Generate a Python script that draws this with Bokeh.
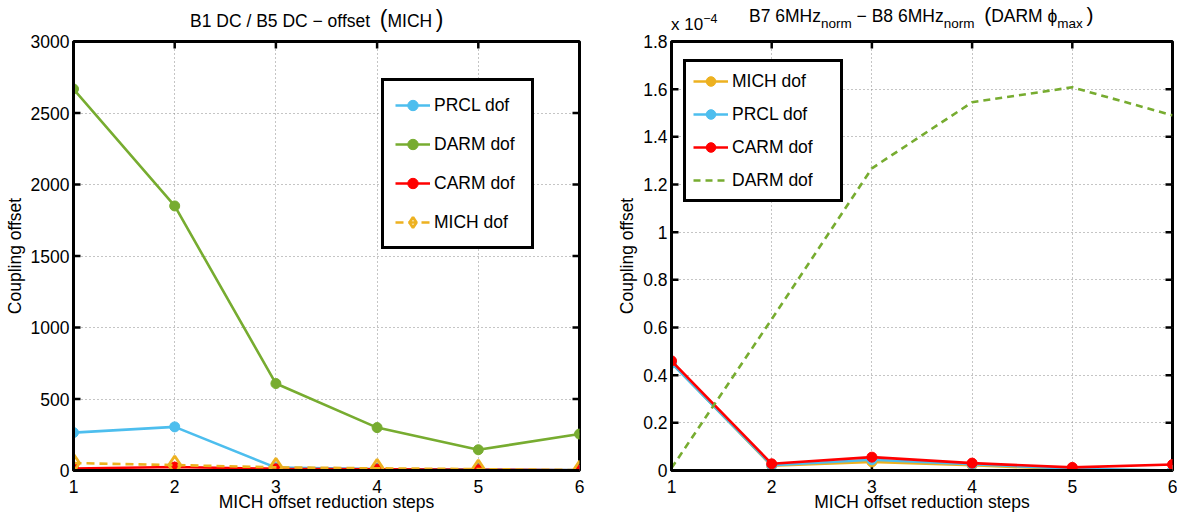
import math
from bokeh.layouts import row, column
from bokeh.models import (CustomJSTickFormatter, FixedTicker, Legend, LegendItem,
                          Range1d, Div)
from bokeh.plotting import figure
from bokeh.embed import file_html
from bokeh.resources import INLINE

FONT = "Liberation Sans"
FS = "17.5px"

# ---------------- data ----------------
steps = [1, 2, 3, 4, 5, 6]
x_ticks = [1, 2, 3, 4, 5, 6]
x_label = "MICH offset reduction steps"
y_label = "Coupling offset"

# left panel: B1 DC / B5 DC - offset (MICH)
left_y_ticks = [0, 500, 1000, 1500, 2000, 2500, 3000]
left_prcl = [265, 305, 20, 10, 6, 3]
left_darm = [2668, 1850, 608, 300, 145, 255]
left_carm = [14, 24, 12, 9, 5, 2]
left_mich = [52, 38, 22, 15, 10, 3]

# right panel: B7 6MHz_norm - B8 6MHz_norm (DARM phi_max), values in units of 1e-4
right_y_ticks = [0, 0.2, 0.4, 0.6, 0.8, 1.0, 1.2, 1.4, 1.6, 1.8]
right_mich = [0.452, 0.020, 0.036, 0.022, 0.005, 0.000]
right_prcl = [0.450, 0.022, 0.045, 0.026, 0.008, 0.000]
right_carm = [0.460, 0.028, 0.056, 0.031, 0.013, 0.025]
right_darm = [0.010, 0.635, 1.268, 1.545, 1.608, 1.490]

BLUE = "#4DBEEE"
GREEN = "#77AC30"
RED = "#FF0000"
ORANGE = "#EDB120"

# ---------------- layout ----------------
FRAME_H = 429
TITLE_H = 37
OVERLAP = 9          # figure canvas slides up under the title strip
BORDER_TOP = 13
BORDER_BOTTOM = 43


def style_axis(ax):
    ax.major_tick_in = 0
    ax.major_tick_out = 0
    ax.minor_tick_line_color = None
    ax.axis_line_width = 3
    ax.major_label_text_font = FONT
    ax.major_label_text_font_size = FS
    ax.major_label_text_color = "black"
    ax.axis_label_text_font = FONT
    ax.axis_label_text_font_size = FS
    ax.axis_label_text_font_style = "normal"
    ax.axis_label_text_color = "black"


def base_fig(frame_w, y_range, y_ticks, border_left, border_right, y_fmt=None):
    p = figure(frame_width=frame_w, frame_height=FRAME_H,
               x_range=Range1d(1, 6), y_range=Range1d(*y_range),
               min_border_left=border_left, min_border_right=border_right,
               min_border_top=BORDER_TOP, min_border_bottom=BORDER_BOTTOM,
               output_backend="svg", toolbar_location=None,
               background_fill_color="white", border_fill_color=None,
               margin=(-OVERLAP, 0, 0, 0))
    p.outline_line_color = "black"
    p.outline_line_alpha = 1
    p.outline_line_width = 3
    xt = FixedTicker(ticks=x_ticks)
    yt = FixedTicker(ticks=y_ticks)
    xa = p.xaxis[0]
    ya = p.yaxis[0]
    xa.ticker = xt
    ya.ticker = yt
    if y_fmt is not None:
        ya.formatter = y_fmt
    style_axis(xa)
    style_axis(ya)
    xa.axis_label = x_label
    ya.axis_label = y_label
    xa.major_label_standoff = 9
    xa.axis_label_standoff = -4
    ya.major_label_standoff = 4
    ya.axis_label_standoff = 3
    for g, t in ((p.xgrid[0], xt), (p.ygrid[0], yt)):
        g.ticker = t
        g.grid_line_color = "#8a8a8a"
        g.grid_line_dash = "1 3"
        g.grid_line_width = 1
    # inward tick marks on all four sides (half of each dash is clipped by the frame)
    y0, y1 = y_range
    n_x, n_y = len(x_ticks), len(y_ticks)
    p.scatter(x_ticks * 2, [y0] * n_x + [y1] * n_x, marker="dash", size=14,
              angle=math.pi / 2, line_color="black", line_width=2.5)
    p.scatter([1] * n_y + [6] * n_y, y_ticks * 2, marker="dash", size=14,
              line_color="black", line_width=2.5)
    return p


def series(p, y, color, dash="solid", marker="circle"):
    ln = p.line(steps, y, line_color=color, line_width=2.6, line_dash=dash)
    if marker == "diamond":
        sc = p.scatter(steps, y, marker="diamond", size=18, line_color=color,
                       line_width=2.8, fill_color=None)
    else:
        sc = p.scatter(steps, y, marker="circle", size=10, line_color=color,
                       fill_color=color)
    return ln, sc


def style_legend(leg, gh, spacing, padding, label_w):
    leg.glyph_width = 35
    leg.glyph_height = gh
    leg.label_height = gh
    leg.label_width = label_w
    leg.spacing = spacing
    leg.padding = padding
    leg.label_standoff = 4
    leg.margin = 0
    leg.label_text_font = FONT
    leg.label_text_font_size = FS
    leg.label_text_color = "black"
    leg.border_line_color = "black"
    leg.border_line_alpha = 1
    leg.border_line_width = 3
    leg.background_fill_color = "white"
    leg.background_fill_alpha = 1


# ---------------- left figure ----------------
L_FRAME_W = 506
L_LEFT = 73
L_RIGHT = 35
L_W = L_LEFT + L_FRAME_W + L_RIGHT
pl = base_fig(L_FRAME_W, (0, 3000), left_y_ticks, L_LEFT, L_RIGHT)

r_prcl = series(pl, left_prcl, BLUE)
r_darm = series(pl, left_darm, GREEN)
r_carm = series(pl, left_carm, RED)
r_mich = series(pl, left_mich, ORANGE, dash="8 5", marker="diamond")

leg_l = Legend(items=[
    LegendItem(label="PRCL dof", renderers=list(r_prcl)),
    LegendItem(label="DARM dof", renderers=list(r_darm)),
    LegendItem(label="CARM dof", renderers=list(r_carm)),
    LegendItem(label="MICH dof", renderers=list(r_mich)),
], location=(308, 221))
style_legend(leg_l, 26, 13, 11, 86)
pl.add_layout(leg_l)

BIG = "font-size:23px;"
title_l = Div(
    text=(
        f'<div style="position:relative;width:{L_W}px;height:{TITLE_H}px;'
        f'font-family:\'{FONT}\';color:black;">'
        '<div style="position:absolute;left:190px;top:9px;font-size:17.5px;'
        'line-height:20px;white-space:nowrap;">'
        f'B1 DC / B5 DC \u2212 offset &nbsp;<span style="{BIG}">(</span>MICH'
        f'&thinsp;<span style="{BIG}">)</span></div></div>'
    ),
    width=L_W, height=TITLE_H, margin=0)

# ---------------- right figure ----------------
R_FRAME_W = 501
R_LEFT = 56
R_RIGHT = 5
R_W = R_LEFT + R_FRAME_W + R_RIGHT
fmt_r = CustomJSTickFormatter(code="return String(Math.round(tick * 10) / 10);")
pr = base_fig(R_FRAME_W, (0, 1.8), right_y_ticks, R_LEFT, R_RIGHT, y_fmt=fmt_r)

s_mich = series(pr, right_mich, ORANGE)
s_prcl = series(pr, right_prcl, BLUE)
s_carm = series(pr, right_carm, RED)
s_darm = pr.line(steps, right_darm, line_color=GREEN, line_width=2.6, line_dash="7 5")

leg_r = Legend(items=[
    LegendItem(label="MICH dof", renderers=list(s_mich)),
    LegendItem(label="PRCL dof", renderers=list(s_prcl)),
    LegendItem(label="CARM dof", renderers=list(s_carm)),
    LegendItem(label="DARM dof", renderers=[s_darm]),
], location=(12, 268))
style_legend(leg_r, 24, 9, 7, 101)
pr.add_layout(leg_r)

SUB = "font-size:13.5px;vertical-align:-6px;"
PAR = "font-size:21px;"
title_r = Div(
    text=(
        f'<div style="position:relative;width:{R_W}px;height:{TITLE_H}px;'
        f'font-family:\'{FONT}\';color:black;">'
        '<div style="position:absolute;left:135px;top:5px;font-size:17.5px;'
        'line-height:20px;white-space:nowrap;">'
        f'B7 6MHz<span style="{SUB}">norm</span> \u2212 B8 6MHz'
        f'<span style="{SUB}">norm</span> &nbsp;<span style="{PAR}">(</span>DARM '
        f'\u03d5<span style="{SUB}">max</span>&thinsp;<span style="{PAR}">)</span></div>'
        '<div style="position:absolute;left:57px;top:10px;font-size:17px;'
        'line-height:18px;white-space:nowrap;">x 10'
        '<span style="font-size:12.5px;vertical-align:7px;">\u22124</span></div>'
        '</div>'
    ),
    width=R_W, height=TITLE_H, margin=0)

layout = row(column(title_l, pl), column(title_r, pr))
open("out.html", "w").write(file_html(layout, INLINE))
